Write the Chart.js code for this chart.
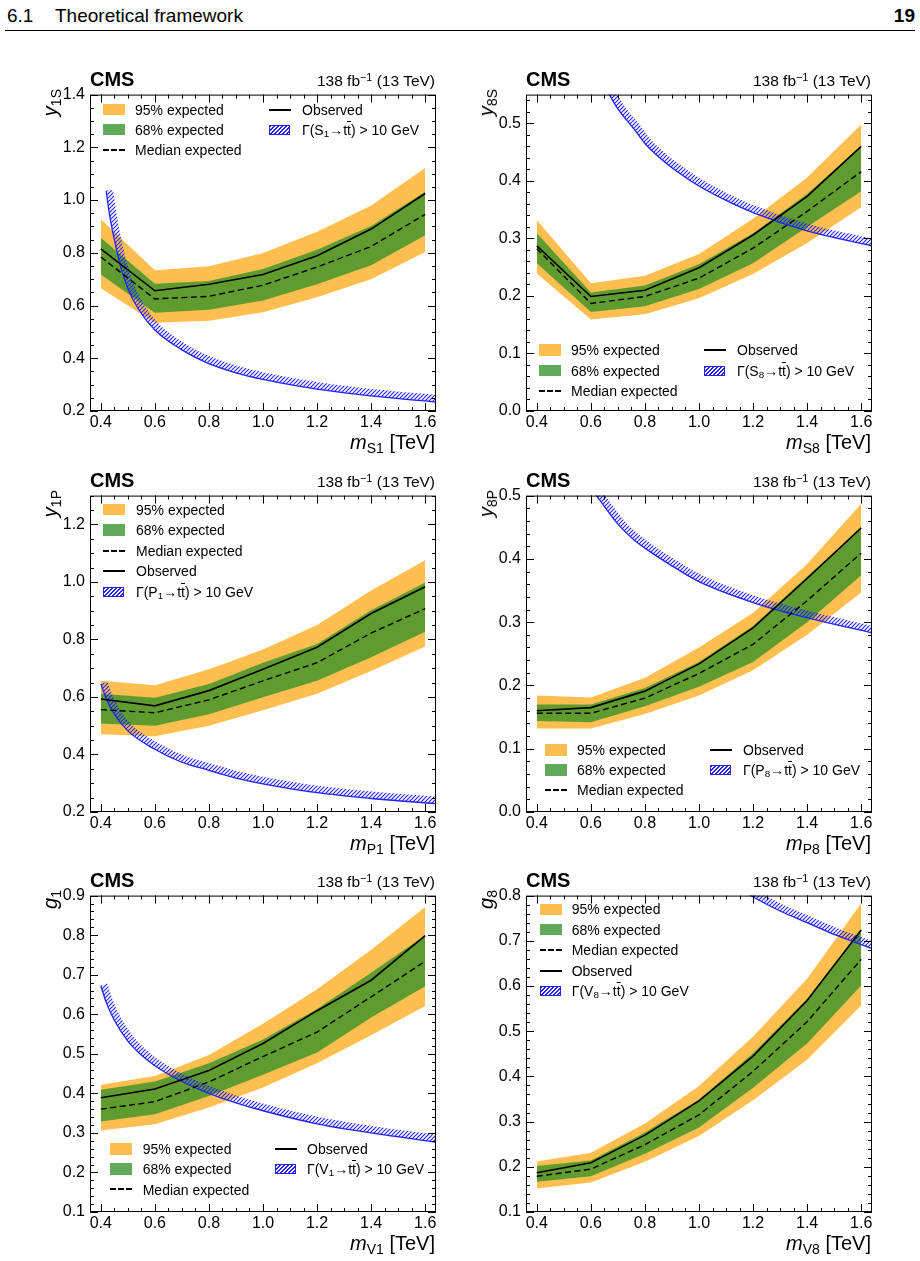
<!DOCTYPE html>
<html>
<head>
<meta charset="utf-8">
<title>Coupling limits</title>
<script src="https://cdn.jsdelivr.net/npm/chart.js@4.4.1/dist/chart.umd.min.js"></script>
<style>
  body { margin: 0; background: #fff; }
  #page { position: relative; width: 920px; height: 1261px; overflow: hidden;
          font-family: "Liberation Sans", Arial, Helvetica, sans-serif; color: #000; }
  .t { position: absolute; white-space: nowrap; line-height: 1; }
  .t sub, .t sup { line-height: 0; font-size: 0.7em; }
  .t sub { vertical-align: -0.25em; }
  .t sup { vertical-align: 0.45em; }
  .ov { text-decoration: overline; }
  .rot { transform-origin: 0 0; transform: rotate(-90deg) translateX(-100%); }
  canvas.panel { position: absolute; }
  .sw { position: absolute; box-sizing: border-box; }
</style>
</head>
<body>
<div id="page"></div>
<script>
// mass points (TeV)
const mass = [0.4, 0.6, 0.8, 1.0, 1.2, 1.4, 1.6];
const massTicks = [0.4, 0.6, 0.8, 1.0, 1.2, 1.4, 1.6];

// colour-singlet scalar
const s1Obs  = [0.815, 0.656, 0.681, 0.718, 0.789, 0.890, 1.025];
const s1Exp  = [0.784, 0.625, 0.635, 0.677, 0.746, 0.824, 0.946];
const s1Hi68 = [0.857, 0.683, 0.693, 0.739, 0.812, 0.902, 1.032];
const s1Lo68 = [0.718, 0.573, 0.584, 0.619, 0.681, 0.753, 0.867];
const s1Hi95 = [0.927, 0.734, 0.749, 0.799, 0.880, 0.979, 1.122];
const s1Lo95 = [0.666, 0.535, 0.542, 0.575, 0.631, 0.700, 0.803];
const s1WidthMass = [0.42, 0.43, 0.44, 0.45, 0.47, 0.50, 0.54, 0.60, 0.70, 0.80, 0.90, 1.00, 1.20, 1.40, 1.64];
const s1Width     = [1.035, 0.96, 0.90, 0.85, 0.76, 0.665, 0.585, 0.507, 0.432, 0.38, 0.345, 0.32, 0.283, 0.257, 0.234];
const s1Ticks = [0.2, 0.4, 0.6, 0.8, 1.0, 1.2, 1.4];

// colour-octet scalar
const s8Obs  = [0.287, 0.199, 0.210, 0.249, 0.306, 0.373, 0.460];
const s8Exp  = [0.282, 0.187, 0.199, 0.231, 0.283, 0.347, 0.416];
const s8Hi68 = [0.309, 0.206, 0.218, 0.255, 0.309, 0.377, 0.461];
const s8Lo68 = [0.257, 0.172, 0.182, 0.212, 0.257, 0.320, 0.382];
const s8Hi95 = [0.332, 0.222, 0.235, 0.273, 0.334, 0.406, 0.498];
const s8Lo95 = [0.239, 0.159, 0.168, 0.196, 0.238, 0.292, 0.354];
const s8WidthMass = [0.65, 0.70, 0.76, 0.80, 0.86, 0.90, 1.00, 1.10, 1.20, 1.40, 1.64];
const s8Width     = [0.565, 0.525, 0.49, 0.465, 0.438, 0.423, 0.391, 0.366, 0.345, 0.313, 0.287];
const s8Ticks = [0.0, 0.1, 0.2, 0.3, 0.4, 0.5];

// colour-singlet pseudoscalar
const p1Obs  = [0.593, 0.569, 0.622, 0.696, 0.773, 0.890, 0.983];
const p1Exp  = [0.556, 0.545, 0.590, 0.656, 0.719, 0.822, 0.907];
const p1Hi68 = [0.611, 0.597, 0.645, 0.719, 0.784, 0.901, 0.998];
const p1Lo68 = [0.508, 0.500, 0.540, 0.599, 0.656, 0.738, 0.827];
const p1Hi95 = [0.656, 0.641, 0.696, 0.765, 0.850, 0.970, 1.075];
const p1Lo95 = [0.470, 0.463, 0.500, 0.554, 0.611, 0.690, 0.775];
const p1WidthMass = [0.40, 0.42, 0.45, 0.50, 0.60, 0.70, 0.80, 0.90, 1.00, 1.20, 1.40, 1.64];
const p1Width     = [0.645, 0.595, 0.54, 0.482, 0.418, 0.373, 0.345, 0.318, 0.298, 0.267, 0.247, 0.229];
const p1Ticks = [0.2, 0.4, 0.6, 0.8, 1.0, 1.2];

// colour-octet pseudoscalar
const p8Obs  = [0.160, 0.165, 0.191, 0.234, 0.291, 0.369, 0.449];
const p8Exp  = [0.156, 0.156, 0.180, 0.219, 0.265, 0.334, 0.409];
const p8Hi68 = [0.170, 0.170, 0.196, 0.237, 0.294, 0.372, 0.449];
const p8Lo68 = [0.144, 0.142, 0.167, 0.198, 0.237, 0.300, 0.374];
const p8Hi95 = [0.184, 0.181, 0.212, 0.260, 0.315, 0.392, 0.487];
const p8Lo95 = [0.132, 0.132, 0.155, 0.184, 0.224, 0.280, 0.347];
const p8WidthMass = [0.58, 0.62, 0.70, 0.76, 0.80, 0.90, 1.00, 1.20, 1.40, 1.64];
const p8Width     = [0.52, 0.50, 0.455, 0.43, 0.417, 0.389, 0.364, 0.331, 0.307, 0.283];
const p8Ticks = [0.0, 0.1, 0.2, 0.3, 0.4, 0.5];

// colour-singlet vector
const v1Obs  = [0.389, 0.411, 0.458, 0.526, 0.609, 0.686, 0.799];
const v1Exp  = [0.360, 0.379, 0.429, 0.493, 0.555, 0.644, 0.734];
const v1Hi68 = [0.409, 0.430, 0.476, 0.536, 0.613, 0.705, 0.800];
const v1Lo68 = [0.329, 0.347, 0.393, 0.447, 0.503, 0.592, 0.671];
const v1Hi95 = [0.422, 0.444, 0.497, 0.576, 0.663, 0.763, 0.871];
const v1Lo95 = [0.306, 0.322, 0.364, 0.415, 0.476, 0.547, 0.621];
const v1WidthMass = [0.40, 0.42, 0.45, 0.50, 0.55, 0.60, 0.70, 0.80, 0.90, 1.00, 1.20, 1.40, 1.64];
const v1Width     = [0.672, 0.63, 0.585, 0.532, 0.497, 0.47, 0.43, 0.40, 0.376, 0.356, 0.323, 0.300, 0.277];
const v1Ticks = [0.1, 0.2, 0.3, 0.4, 0.5, 0.6, 0.7, 0.8, 0.9];

// colour-octet vector
const v8Obs  = [0.187, 0.209, 0.270, 0.346, 0.445, 0.568, 0.724];
const v8Exp  = [0.179, 0.195, 0.249, 0.315, 0.411, 0.521, 0.659];
const v8Hi68 = [0.202, 0.214, 0.276, 0.349, 0.451, 0.572, 0.725];
const v8Lo68 = [0.167, 0.179, 0.229, 0.287, 0.375, 0.473, 0.601];
const v8Hi95 = [0.212, 0.231, 0.296, 0.379, 0.488, 0.616, 0.783];
const v8Lo95 = [0.152, 0.165, 0.211, 0.268, 0.347, 0.437, 0.557];
const v8WidthMass = [1.15, 1.20, 1.30, 1.40, 1.50, 1.64];
const v8Width     = [0.815, 0.797, 0.766, 0.740, 0.714, 0.683];
const v8Ticks = [0.1, 0.2, 0.3, 0.4, 0.5, 0.6, 0.7, 0.8];

const ORANGE = 'rgb(255,191,80)';
const GREEN = 'rgba(46,143,38,0.76)';
const BLUE = '#2222ff';
const FONT = '"Liberation Sans", Arial, Helvetica, sans-serif';

Chart.defaults.font.family = FONT;
Chart.defaults.color = '#000';

const panels = [
  { left: 90, top: 90, ymin: 0.2, ymax: 1.4, yTicks: s1Ticks, yMinor: 0.05,
    particle: 'S<sub>1</sub>', yTitle: '<i>y</i><sub>1S</sub>', xTitle: '<i>m</i><sub>S1</sub> [TeV]',
    bands: { obs: s1Obs, exp: s1Exp, hi68: s1Hi68, lo68: s1Lo68, hi95: s1Hi95, lo95: s1Lo95 },
    wm: s1WidthMass, w: s1Width,
    legend: { cols: 2, sx: 103, tx: 135, bx: 269, btx: 302, y0: 109.5, dy: 20 } },
  { left: 526, top: 90, ymin: 0, ymax: 0.55, yTicks: s8Ticks, yMinor: 0.02,
    particle: 'S<sub>8</sub>', yTitle: '<i>y</i><sub>8S</sub>', xTitle: '<i>m</i><sub>S8</sub> [TeV]',
    bands: { obs: s8Obs, exp: s8Exp, hi68: s8Hi68, lo68: s8Lo68, hi95: s8Hi95, lo95: s8Lo95 },
    wm: s8WidthMass, w: s8Width,
    legend: { cols: 2, sx: 539, tx: 571, bx: 704, btx: 737, y0: 350, dy: 20.5 } },
  { left: 90, top: 491, ymin: 0.2, ymax: 1.3, yTicks: p1Ticks, yMinor: 0.05,
    particle: 'P<sub>1</sub>', yTitle: '<i>y</i><sub>1P</sub>', xTitle: '<i>m</i><sub>P1</sub> [TeV]',
    bands: { obs: p1Obs, exp: p1Exp, hi68: p1Hi68, lo68: p1Lo68, hi95: p1Hi95, lo95: p1Lo95 },
    wm: p1WidthMass, w: p1Width,
    legend: { cols: 1, sx: 103, tx: 136, y0: 509.7, dy: 20.5 } },
  { left: 526, top: 491, ymin: 0, ymax: 0.5, yTicks: p8Ticks, yMinor: 0.02,
    particle: 'P<sub>8</sub>', yTitle: '<i>y</i><sub>8P</sub>', xTitle: '<i>m</i><sub>P8</sub> [TeV]',
    bands: { obs: p8Obs, exp: p8Exp, hi68: p8Hi68, lo68: p8Lo68, hi95: p8Hi95, lo95: p8Lo95 },
    wm: p8WidthMass, w: p8Width,
    legend: { cols: 2, sx: 545, tx: 577, bx: 710, btx: 743, y0: 750, dy: 20 } },
  { left: 90, top: 891, ymin: 0.1, ymax: 0.9, yTicks: v1Ticks, yMinor: 0.02,
    particle: 'V<sub>1</sub>', yTitle: '<i>g</i><sub>1</sub>', xTitle: '<i>m</i><sub>V1</sub> [TeV]',
    bands: { obs: v1Obs, exp: v1Exp, hi68: v1Hi68, lo68: v1Lo68, hi95: v1Hi95, lo95: v1Lo95 },
    wm: v1WidthMass, w: v1Width,
    legend: { cols: 2, sx: 110, tx: 142.7, bx: 275, btx: 307, y0: 1149, dy: 20.2 } },
  { left: 526, top: 891, ymin: 0.1, ymax: 0.8, yTicks: v8Ticks, yMinor: 0.02,
    particle: 'V<sub>8</sub>', yTitle: '<i>g</i><sub>8</sub>', xTitle: '<i>m</i><sub>V8</sub> [TeV]',
    bands: { obs: v8Obs, exp: v8Exp, hi68: v8Hi68, lo68: v8Lo68, hi95: v8Hi95, lo95: v8Lo95 },
    wm: v8WidthMass, w: v8Width,
    legend: { cols: 1, sx: 540, tx: 571.7, y0: 909.3, dy: 20.4 } }
];

const page = document.getElementById('page');

// text placed by its baseline (line-height 1 -> baseline sits 0.8465em below top)
function text(html, x, base, size, o = {}) {
  const d = document.createElement('div');
  d.className = 't';
  d.innerHTML = html;
  d.style.fontSize = size + 'px';
  if (o.bold) d.style.fontWeight = 'bold';
  if (o.right) d.style.right = (920 - x) + 'px'; else d.style.left = x + 'px';
  d.style.top = (base - 0.8465 * size) + 'px';
  page.appendChild(d);
  return d;
}

function yTitle(html, baseX, endY, size) {
  const d = document.createElement('div');
  d.className = 't rot';
  d.innerHTML = html;
  d.style.fontSize = size + 'px';
  d.style.left = (baseX - 0.8465 * size) + 'px';
  d.style.top = endY + 'px';
  page.appendChild(d);
}

function swatch(kind, x, cy) {
  const d = document.createElement('div');
  d.className = 'sw';
  let w = 22, h = 11.5, top = cy - h / 2;
  if (kind === 'med' || kind === 'obs') { h = 2; top = Math.round(cy - 1); }
  if (kind === 'hatch') { w = 21; h = 10; top = cy - 5; }
  d.style.left = Math.round(x) + 'px';
  d.style.top = top + 'px';
  d.style.width = w + 'px';
  d.style.height = h + 'px';
  if (kind === 'o95') d.style.background = ORANGE;
  if (kind === 'g68') d.style.background = GREEN;
  if (kind === 'obs') d.style.background = '#000';
  if (kind === 'med') d.style.background = 'repeating-linear-gradient(90deg, #000 0 6px, transparent 6px 8px)';
  if (kind === 'hatch') {
    d.style.border = '1px solid ' + BLUE;
    d.style.background = 'repeating-linear-gradient(135deg, ' + BLUE + ' 0 1.1px, #fff 1.1px 2.8px)';
  }
  page.appendChild(d);
}

function legend(p) {
  const L = p.legend;
  const gam = '&Gamma;(' + p.particle + '&rarr;t<span class="ov">t</span>) &gt; 10 GeV';
  const items = [['o95', '95% expected'], ['g68', '68% expected'], ['med', 'Median expected'],
                 ['obs', 'Observed'], ['hatch', gam]];
  items.forEach((it, i) => {
    let sx = L.sx, tx = L.tx, cy = L.y0 + i * L.dy;
    if (L.cols === 2 && i >= 3) { sx = L.bx; tx = L.btx; cy = L.y0 + (i - 3) * L.dy; }
    swatch(it[0], sx, cy);
    text(it[1], tx, cy + 5, 14);
  });
}

// diagonal hatch tile
const tile = document.createElement('canvas');
tile.width = 4; tile.height = 4;
(function () {
  const g = tile.getContext('2d');
  g.strokeStyle = BLUE; g.lineWidth = 1.1;
  g.beginPath();
  g.moveTo(0, 4); g.lineTo(4, 0);
  g.moveTo(-1, 1); g.lineTo(1, -1);
  g.moveTo(3, 5); g.lineTo(5, 3);
  g.stroke();
})();

// frame with inward major/minor ticks on all four sides
const framePlugin = {
  id: 'frame',
  afterDraw(chart, args, o) {
    const { ctx, chartArea: a, scales: { x, y } } = chart;
    ctx.save();
    ctx.strokeStyle = '#000';
    ctx.lineWidth = 1;
    ctx.beginPath();
    const tick = (scale, v, len) => {
      if (scale === x) {
        const px = Math.round(scale.getPixelForValue(v)) + 0.5;
        ctx.moveTo(px, a.bottom); ctx.lineTo(px, a.bottom - len);
        ctx.moveTo(px, a.top); ctx.lineTo(px, a.top + len);
      } else {
        const py = Math.round(scale.getPixelForValue(v)) + 0.5;
        ctx.moveTo(a.left, py); ctx.lineTo(a.left + len, py);
        ctx.moveTo(a.right, py); ctx.lineTo(a.right - len, py);
      }
    };
    [[x, o.xMinor], [y, o.yMinor]].forEach(([s, step]) => {
      const n0 = Math.ceil(s.min / step - 1e-6), n1 = Math.floor(s.max / step + 1e-6);
      for (let n = n0; n <= n1; n++) tick(s, n * step, 4);
      s.ticks.forEach(t => tick(s, t.value, 8));
    });
    ctx.stroke();
    ctx.strokeRect(a.left + 0.5, a.top + 0.5, a.right - a.left - 1, a.bottom - a.top - 1);
    ctx.restore();
  }
};

// keep the hatch only on the upper side of the width curve
const hatchPlugin = {
  id: 'hatchSide',
  beforeDatasetDraw(chart, args) {
    if (!chart.data.datasets[args.index].hatchBand) return;
    const { ctx, chartArea: a } = chart;
    args.meta.dataset.updateControlPoints(a, 'x');
    const pts = args.meta.data;
    ctx.save();
    ctx.beginPath();
    ctx.moveTo(pts[0].x, pts[0].y);
    for (let i = 1; i < pts.length; i++) {
      const p = pts[i - 1], q = pts[i];
      ctx.bezierCurveTo(p.cp2x, p.cp2y, q.cp1x, q.cp1y, q.x, q.y);
    }
    const last = pts[pts.length - 1];
    ctx.lineTo(last.x + 40, last.y);
    ctx.lineTo(last.x + 40, a.top - 60);
    ctx.lineTo(pts[0].x, a.top - 60);
    ctx.closePath();
    ctx.clip();
  },
  afterDatasetDraw(chart, args) {
    if (chart.data.datasets[args.index].hatchBand) chart.ctx.restore();
  }
};

function header() {
  text('6.1', 7, 21.7, 19);
  text('Theoretical framework', 55, 21.7, 19);
  text('19', 915, 21.7, 19, { bold: true, right: true });
  const line = document.createElement('div');
  line.style.cssText = 'position:absolute;left:5px;top:30px;width:910px;height:1px;background:#000';
  page.appendChild(line);
}

function makePanel(p) {
  const W = 346, H = 321;
  const cv = document.createElement('canvas');
  cv.className = 'panel';
  cv.width = W + 55; cv.height = H + 35;
  cv.style.left = (p.left - 40) + 'px';
  cv.style.top = (p.top - 10) + 'px';
  page.appendChild(cv);
  const ctx = cv.getContext('2d');
  const hatch = ctx.createPattern(tile, 'repeat');

  const pts = ys => mass.map((m, i) => ({ x: m, y: ys[i] }));
  const wpts = p.wm.map((m, i) => ({ x: m, y: p.w[i] }));
  const none = 'rgba(0,0,0,0)';
  const b = p.bands;

  new Chart(ctx, {
    type: 'line',
    data: {
      datasets: [
        { data: pts(b.lo95), borderColor: none, borderWidth: 1, pointRadius: 0, fill: false, order: 8 },
        { data: pts(b.hi95), borderColor: none, borderWidth: 1, pointRadius: 0, fill: '-1', backgroundColor: ORANGE, order: 7 },
        { data: pts(b.lo68), borderColor: none, borderWidth: 1, pointRadius: 0, fill: false, order: 6 },
        { data: pts(b.hi68), borderColor: none, borderWidth: 1, pointRadius: 0, fill: '-1', backgroundColor: GREEN, order: 5 },
        { data: wpts, hatchBand: true, borderColor: hatch, borderWidth: 14, pointRadius: 0, fill: false,
          cubicInterpolationMode: 'monotone', clip: 0, order: 4 },
        { data: wpts, borderColor: BLUE, borderWidth: 1.3, pointRadius: 0, fill: false,
          cubicInterpolationMode: 'monotone', order: 3 },
        { data: pts(b.exp), borderColor: '#000', borderWidth: 1.4, borderDash: [6, 3.5], pointRadius: 0, fill: false, order: 2 },
        { data: pts(b.obs), borderColor: '#000', borderWidth: 1.6, pointRadius: 0, fill: false, order: 1 }
      ]
    },
    options: {
      responsive: false,
      animation: false,
      events: [],
      layout: { padding: { top: 10, right: 15, left: 0, bottom: 0 } },
      plugins: {
        legend: { display: false },
        tooltip: { enabled: false },
        frame: { xMinor: 0.05, yMinor: p.yMinor }
      },
      scales: {
        x: {
          type: 'linear', min: 0.36, max: 1.64,
          grid: { display: false, drawTicks: false },
          border: { display: false },
          afterFit: s => { s.height = 25; },
          afterBuildTicks: s => { s.ticks = massTicks.map(v => ({ value: v })); },
          ticks: { font: { size: 16 }, color: '#000', padding: 2, maxRotation: 0, autoSkip: false,
                   callback: v => v.toFixed(1) }
        },
        y: {
          type: 'linear', min: p.ymin, max: p.ymax,
          grid: { display: false, drawTicks: false },
          border: { display: false },
          afterFit: s => { s.width = 40; },
          afterBuildTicks: s => { s.ticks = p.yTicks.map(v => ({ value: v })); },
          ticks: { font: { size: 16 }, color: '#000', padding: 5, autoSkip: false,
                   callback: v => v.toFixed(1) }
        }
      }
    },
    plugins: [framePlugin, hatchPlugin]
  });

  text('CMS', p.left, p.top - 4, 20, { bold: true });
  text('138 fb<sup>&minus;1</sup> (13 TeV)', p.left + W - 1, p.top - 4, 15.5, { right: true });
  text(p.xTitle, p.left + W - 1, p.top + H + 38, 20, { right: true });
  yTitle(p.yTitle, p.left - 33, p.top - 1, 20);
  legend(p);
}

header();
panels.forEach(makePanel);
</script>
</body>
</html>
